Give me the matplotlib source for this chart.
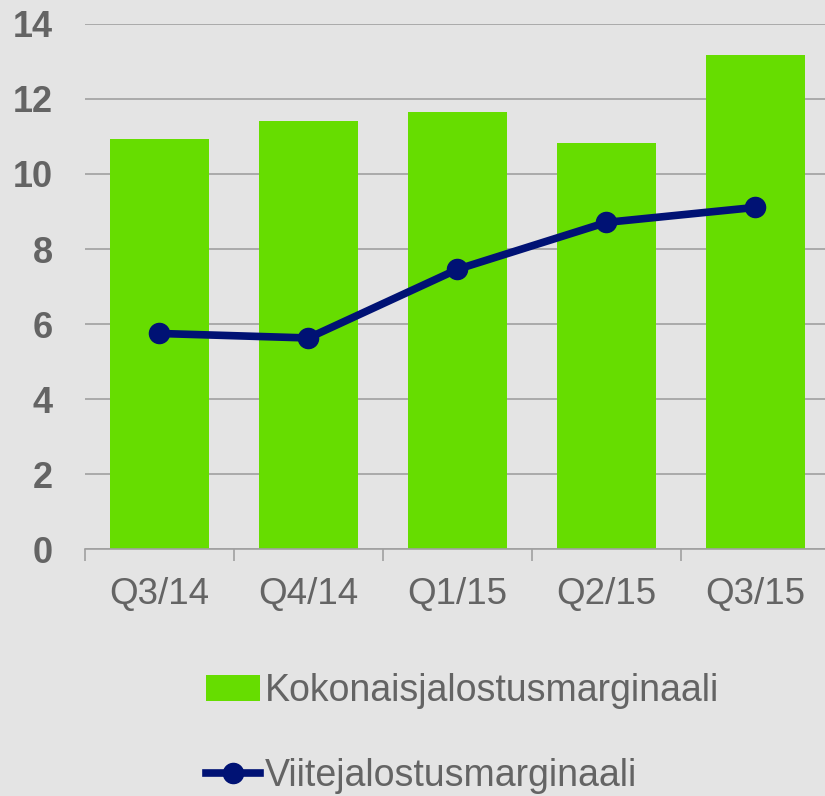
import matplotlib
matplotlib.use('Agg')
import matplotlib.pyplot as plt
import numpy as np

quarters = ['Q3/14', 'Q4/14', 'Q1/15', 'Q2/15', 'Q3/15']
kokonais = [10.93, 11.42, 11.65, 10.82, 13.18]
viite = [5.75, 5.63, 7.46, 8.71, 9.11]

plt.rcParams['font.family'] = 'Liberation Sans'
bg = '#e4e4e4'
gray = '#646464'

fig = plt.figure(figsize=(8.25, 7.96), dpi=100, facecolor=bg)
ax = fig.add_axes([0.103, 0.310, 0.903, 0.660], facecolor=bg)

x = np.arange(len(quarters))
bars = ax.bar(x, kokonais, width=0.66, color='#66dd00', zorder=2, label='Kokonaisjalostusmarginaali')
line, = ax.plot(x, viite, color='#001274', lw=5.5, marker='o', markersize=14.5, zorder=3,
                label='Viitejalostusmarginaali')

ax.set_xlim(-0.5, 4.5)
ax.set_ylim(0, 14)
ax.set_yticks(range(0, 15, 2))
ax.yaxis.grid(True, color='#a0a0a0', lw=1.2, zorder=1)
ax.set_axisbelow(True)
for s in ['top', 'right', 'left']:
    ax.spines[s].set_visible(False)
ax.spines['bottom'].set_color('#a0a0a0')
ax.spines['bottom'].set_linewidth(1.2)

ax.set_xticks(x)
ax.set_xticklabels(quarters)
ax.set_xticks(np.arange(-0.5, 5, 1), minor=True)
ax.tick_params(axis='x', which='major', length=0, pad=20, labelsize=26.5, labelcolor=gray)
ax.tick_params(axis='x', which='minor', length=8.5, width=1.2, color='#a0a0a0', direction='out')
ax.tick_params(axis='y', length=0, pad=23, labelsize=26, labelcolor=gray)
for t in ax.get_yticklabels():
    t.set_fontweight('bold')

fig.legend([bars, line], ['Kokonaisjalostusmarginaali', 'Viitejalostusmarginaali'],
           loc='upper left', bbox_to_anchor=(206 / 825, 1 - 673 / 796), frameon=False,
           fontsize=27, labelcolor=gray, handlelength=1.45, handletextpad=0.12,
           labelspacing=1.3, borderaxespad=0, borderpad=0)

fig.savefig('out.png', dpi=100, facecolor=bg)
